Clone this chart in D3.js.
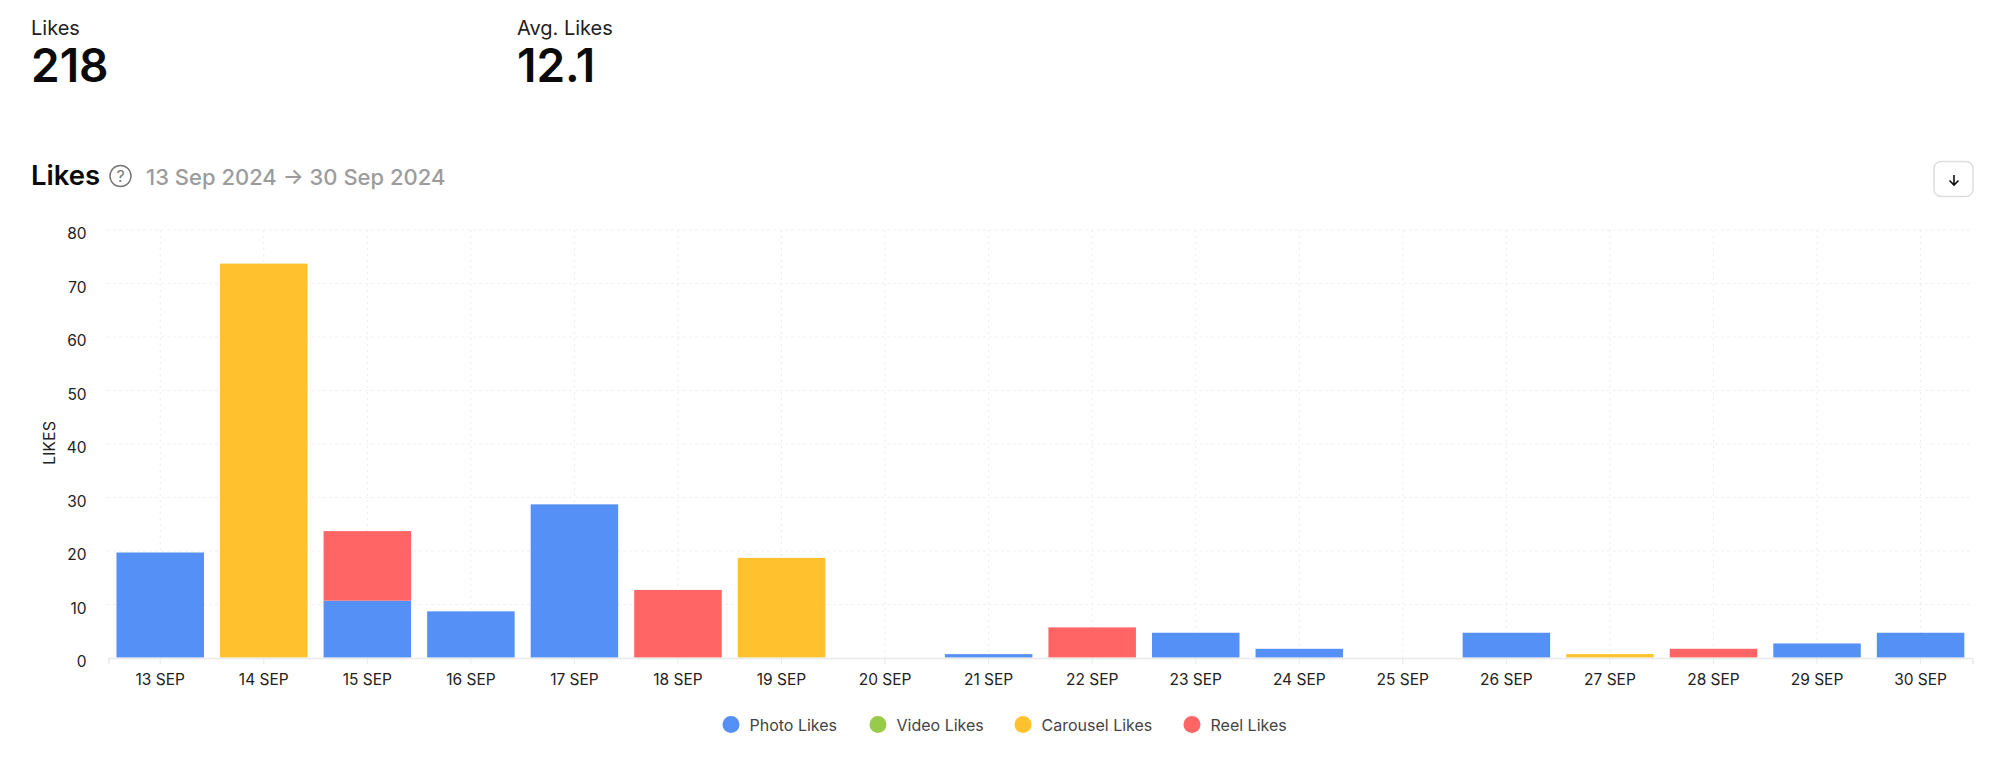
<!DOCTYPE html>
<html>
<head>
<meta charset="utf-8">
<script src="https://cdn.jsdelivr.net/npm/d3@7"></script>
<style>
  html, body { margin: 0; padding: 0; background: #fff; overflow: hidden; }
  text { font-family: Inter, "Noto Sans", sans-serif; }
</style>
</head>
<body>
<div id="chart"></div>
<script>
const days = ["13 SEP", "14 SEP", "15 SEP", "16 SEP", "17 SEP", "18 SEP", "19 SEP", "20 SEP", "21 SEP",
    "22 SEP", "23 SEP", "24 SEP", "25 SEP", "26 SEP", "27 SEP", "28 SEP", "29 SEP", "30 SEP"]
const photoLikes =    [20,  0, 11, 9, 29,  0,  0, 0, 1, 0, 5, 2, 0, 5, 0, 0, 3, 5]
const videoLikes =    [ 0,  0,  0, 0,  0,  0,  0, 0, 0, 0, 0, 0, 0, 0, 0, 0, 0, 0]
const carouselLikes = [ 0, 74,  0, 0,  0,  0, 19, 0, 0, 0, 0, 0, 0, 0, 1, 0, 0, 0]
const reelLikes =     [ 0,  0, 13, 0,  0, 13,  0, 0, 0, 6, 0, 0, 0, 0, 0, 2, 0, 0]
const seriesNames = ["Photo Likes", "Video Likes", "Carousel Likes", "Reel Likes"]
const seriesColors = ["#5590f6", "#98cb4c", "#ffc22e", "#ff6565"]
const yTicks = [0, 10, 20, 30, 40, 50, 60, 70, 80]

const seriesValues = [photoLikes, videoLikes, carouselLikes, reelLikes]
const rows = days.map((day, i) => {
    const row = { day }
    seriesNames.forEach((name, s) => { row[name] = seriesValues[s][i] })
    return row
})

const canvas = d3.select('#chart')
    .append('svg')
    .attr('width', 2000)
    .attr('height', 760)
    .attr('style', 'display: block; background-color: white')

// header stats
const stats = [
    { label: "Likes", value: "218", x: 31 },
    { label: "Avg. Likes", value: "12.1", x: 517 },
]
stats.forEach((s) => {
    canvas.append('text').attr('x', s.x).attr('y', 35)
        .attr('font-size', '20px').attr('fill', '#222').text(s.label)
    canvas.append('text').attr('x', s.x).attr('y', 82)
        .attr('font-size', '46px').attr('font-weight', 600).attr('fill', '#0a0a0a').text(s.value)
})

// title row
canvas.append('text').attr('x', 31).attr('y', 185)
    .attr('font-size', '27.5px').attr('font-weight', 600).attr('fill', '#0a0a0a').text('Likes')
canvas.append('circle').attr('cx', 120.5).attr('cy', 176).attr('r', 10.5)
    .attr('fill', 'none').attr('stroke', '#777').attr('stroke-width', 1.5)
canvas.append('text').attr('x', 120.5).attr('y', 182).attr('text-anchor', 'middle')
    .attr('font-size', '16px').attr('fill', '#777').text('?')
canvas.append('text').attr('x', 146).attr('y', 185)
    .attr('font-size', '22px').attr('font-weight', 500).attr('fill', '#9c9c9c')
    .text('13 Sep 2024 → 30 Sep 2024')

// download button
canvas.append('rect').attr('x', 1934).attr('y', 161.5).attr('width', 39).attr('height', 35).attr('rx', 7)
    .attr('fill', '#fff').attr('stroke', '#dedede').attr('stroke-width', 1.5)
canvas.append('path').attr('d', 'M1954 175V185M1949.5 180.5L1954 185L1958.5 180.5')
    .attr('fill', 'none').attr('stroke', '#111').attr('stroke-width', 1.6)

// scales
const x = d3.scaleBand()
    .domain(days)
    .range([108.4, 1972.4])
    .paddingInner(0.155)
    .paddingOuter(0.078)

const y = d3.scaleLinear()
    .domain([0, 80])
    .range([658, 230])

// grid
const grid = canvas.append('g').attr('class', 'grid')
grid.selectAll('line.h')
    .data(yTicks.filter((t) => t > 0))
    .enter().append('line').attr('class', 'h')
    .attr('x1', 107.6).attr('x2', 1971.6)
    .attr('y1', (d) => y(d)).attr('y2', (d) => y(d))
grid.selectAll('line.v')
    .data(days)
    .enter().append('line').attr('class', 'v')
    .attr('x1', (d) => x(d) + x.bandwidth() / 2).attr('x2', (d) => x(d) + x.bandwidth() / 2)
    .attr('y1', 230).attr('y2', 658)
grid.selectAll('line')
    .attr('stroke', '#ececec')
    .attr('stroke-width', 1)
    .attr('stroke-dasharray', '2,4')

// bars
const stacks = d3.stack().keys(seriesNames)
const layers = canvas.selectAll('g.layer')
    .data(stacks(rows), (d) => d.key)
    .enter().append('g')
    .classed('layer', true)
    .attr('fill', (d, i) => seriesColors[i])

layers.selectAll('rect')
    .data((d) => d.filter((e) => e[1] > e[0]))
    .enter().append('rect')
    .attr('x', (d) => x(d.data.day))
    .attr('width', x.bandwidth())
    .attr('y', (d) => y(d[1]) + 1.5)
    .attr('height', (d) => y(d[0]) - y(d[1]) - (d[0] > 0 ? 0 : 2))

// axes
const xAxis = canvas.append('g')
    .attr('transform', 'translate(0, 658)')
    .call(d3.axisBottom(x).tickSize(6).tickPadding(10))
xAxis.select('.domain').attr('stroke', '#e9e9e9').attr('stroke-width', 1.5)
xAxis.selectAll('.tick line').attr('stroke', '#e9e9e9')
xAxis.selectAll('text').attr('font-size', '15.5px').attr('fill', '#222')
    .style('font-family', 'Inter, sans-serif')

const yAxis = canvas.append('g')
    .attr('transform', 'translate(107.6, 0)')
    .call(d3.axisLeft(y).tickValues(yTicks).tickSize(0).tickPadding(21))
yAxis.select('.domain').remove()
yAxis.selectAll('text').attr('font-size', '15.5px').attr('fill', '#222').attr('dy', '0.56em')
    .style('font-family', 'Inter, sans-serif')

canvas.append('text')
    .attr('transform', 'translate(54.5, 443) rotate(-90)')
    .attr('text-anchor', 'middle')
    .attr('font-size', '16px').attr('fill', '#222')
    .text('LIKES')

// legend
const legendX = [731, 878, 1023, 1192]
const legend = canvas.selectAll('.legend')
    .data(seriesNames)
    .enter().append('g')
    .classed('legend', true)
    .attr('transform', (d, i) => `translate(${legendX[i]}, 724.5)`)
legend.append('circle')
    .attr('r', 8.5)
    .attr('fill', (d, i) => seriesColors[i])
legend.append('text')
    .attr('x', 18.5)
    .attr('y', 6)
    .attr('font-size', '16px')
    .attr('fill', '#444')
    .text((d) => d)
</script>
</body>
</html>
